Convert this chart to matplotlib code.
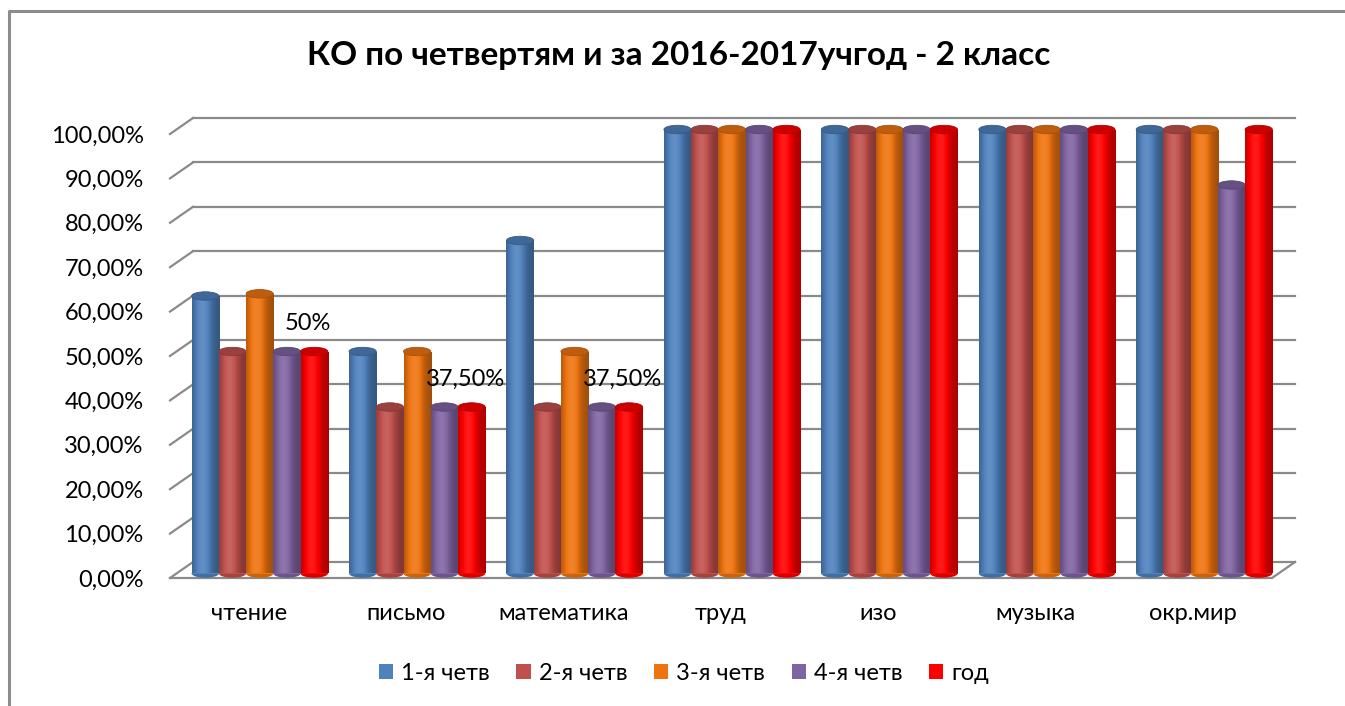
import numpy as np
import matplotlib.pyplot as plt
from matplotlib.patches import Rectangle, Ellipse, Patch
from matplotlib.colors import to_rgb

plt.rcParams['font.family'] = ['Lato', 'DejaVu Sans']

# данные
categories = ["чтение", "письмо", "математика", "труд", "изо", "музыка", "окр.мир"]
series = ["1-я четв", "2-я четв", "3-я четв", "4-я четв", "год"]
q1 = [62.5, 50, 75, 100, 100, 100, 100]
q2 = [50, 37.5, 37.5, 100, 100, 100, 100]
q3 = [63, 50, 50, 100, 100, 100, 100]
q4 = [50, 37.5, 37.5, 100, 100, 100, 87.5]
year = [50, 37.5, 37.5, 100, 100, 100, 100]
year_labels = ["50%", "37,50%", "37,50%", "100%", "100%", "100%", "100%"]
colors = ["#4F81BD", "#C0504D", "#EE7410", "#8064A2", "#FF0000"]
yticks = list(range(0, 101, 10))

values = [q1, q2, q3, q4, year]

W, H = 1345, 706
fig = plt.figure(figsize=(W / 100, H / 100), dpi=100)
fig.patch.set_facecolor("white")

# рамка
fig.add_artist(plt.Line2D([9 / W, 9 / W, 1], [0, 1 - 11 / H, 1 - 11 / H],
                          color="#8c8c8c", lw=2.2, transform=fig.transFigure))

x0, x1, y0, y1 = 170, 1272, 578, 134
ax = fig.add_axes([x0 / W, 1 - y0 / H, (x1 - x0) / W, (y0 - y1) / H])
ax.set_xlim(-0.5, 6.5)
ax.set_ylim(0, 100)
for s in ax.spines.values():
    s.set_visible(False)
ax.set_facecolor("none")

ux = 7 / (x1 - x0)
uy = 100 / (y0 - y1)
dbx, dby = 23 * ux, 16 * uy   # задняя стенка
bdx, bdy = 11 * ux, 4.5 * uy  # плоскость столбцов

grid_c = "#8a8a8a"
for v in yticks:
    ax.plot([-0.5 + dbx, 6.5 + dbx], [v + dby, v + dby], color=grid_c, lw=1.6,
            zorder=1, clip_on=False)
    ax.plot([-0.5, -0.5 + dbx], [v, v + dby], color=grid_c, lw=1.6, zorder=1, clip_on=False)
ax.plot([-0.5, 6.5, 6.5 + dbx], [0, 0, dby], color=grid_c, lw=1.6, zorder=1, clip_on=False)

bw = 0.173
t = np.linspace(0, 1, 64)
shade = 0.68 + 0.5 * np.exp(-((t - 0.38) / 0.3) ** 2)


def shaded(c, f):
    c = np.array(to_rgb(c))
    out = np.where(f[:, None] <= 1, c[None, :] * f[:, None],
                   c[None, :] + (1 - c[None, :]) * (f[:, None] - 1) * 0.6)
    return np.clip(out, 0, 1)


cap_h = 1.9
z = 2
for i in range(len(categories)):
    for j in range(len(series)):
        v = values[j][i]
        xc = i + (j - 2) * bw + bdx
        left, right = xc - bw / 2, xc + bw / 2
        col = colors[j]
        grad = shaded(col, shade)[None, :, :]
        ax.add_patch(Ellipse((xc, bdy), bw, cap_h, facecolor=shaded(col, np.array([0.85]))[0],
                             edgecolor="none", zorder=z, clip_on=False))
        rect = Rectangle((left, bdy), bw, v, facecolor=col, edgecolor="none", zorder=z,
                         clip_on=False)
        ax.add_patch(rect)
        im = ax.imshow(grad, extent=(left, right, bdy, v + bdy), aspect="auto",
                       zorder=z + 0.1, interpolation="bilinear", clip_on=True)
        im.set_clip_path(rect)
        ax.add_patch(Ellipse((xc, v + bdy), bw, cap_h, facecolor=shaded(col, np.array([0.8]))[0],
                             edgecolor=shaded(col, np.array([0.7]))[0], lw=0.6,
                             zorder=z + 0.2, clip_on=False))
        z += 1
    ax.annotate(year_labels[i], (i + 2 * bw + bdx, year[i] + bdy), xytext=(-6, 28),
                textcoords="offset pixels", ha="center", va="center", fontsize=17,
                zorder=100)

ax.set_xlim(-0.5, 6.5)
ax.set_ylim(0, 100)
ax.set_yticks(yticks)
ax.set_yticklabels([f"{v},00%" for v in yticks], fontsize=17)
ax.set_xticks(range(len(categories)))
ax.set_xticklabels(categories, fontsize=17)
ax.tick_params(axis="y", length=0, pad=19)
ax.tick_params(axis="x", length=0, pad=18)

fig.text(679 / W, 1 - 55 / H, "КО по четвертям и за 2016-2017учгод - 2 класс",
         ha="center", va="center", fontsize=24, fontweight="bold")

handles = [Patch(facecolor=c, edgecolor="none") for c in colors]
fig.legend(handles, series, loc="center", bbox_to_anchor=(684 / W, 1 - 673 / H), ncol=5,
           frameon=False, fontsize=17, handlelength=0.6, handleheight=0.6,
           handletextpad=0.35, columnspacing=1.12)

fig.savefig("out.png", dpi=100)
